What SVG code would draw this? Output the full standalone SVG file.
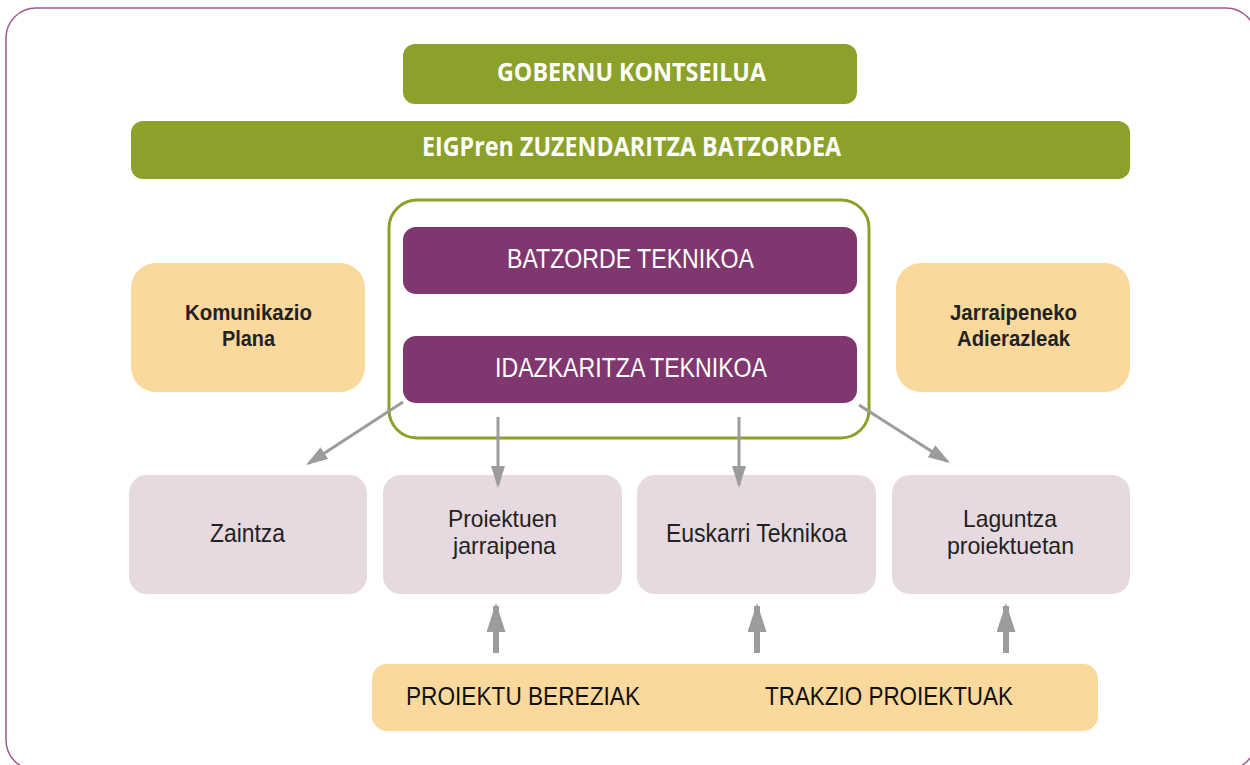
<svg xmlns="http://www.w3.org/2000/svg" width="1250" height="765" viewBox="0 0 1250 765">
<style>
.frame{fill:#fff;stroke:#9b5a8f;stroke-width:1.5}
.green{fill:#8ba12a}
.purple{fill:#80366e}
.orange{fill:#fbd89b}
.pink{fill:#e6d9e0}
.gt{font-family:"Open Sans","Liberation Sans",sans-serif;font-weight:700;fill:#fff;text-anchor:middle}
.pt{font-family:"Liberation Sans",Arial,sans-serif;font-size:28px;fill:#fff;text-anchor:middle}
.ot{font-family:"Liberation Sans",Arial,sans-serif;font-weight:700;font-size:22px;fill:#222;text-anchor:middle}
.kt{font-family:"Liberation Sans",Arial,sans-serif;font-size:25px;fill:#222;text-anchor:middle}
.kt2{font-family:"Liberation Sans",Arial,sans-serif;font-size:24px;fill:#222;text-anchor:middle}
.bt{font-family:"Liberation Sans",Arial,sans-serif;font-size:26px;fill:#111}
.conn{stroke:#9c9c9c;stroke-width:3;fill:none}
.up{stroke:#9c9c9c;stroke-width:6;fill:none}
</style>
<defs>
<marker id="ah" markerUnits="userSpaceOnUse" markerWidth="24" markerHeight="14" refX="19" refY="7" orient="auto">
<path d="M0,0 L22,7 L0,14 z" fill="#9c9c9c"/>
</marker>
<marker id="ahUp" markerUnits="userSpaceOnUse" markerWidth="30" markerHeight="20" refX="26" refY="9.5" orient="auto">
<path d="M0,0 L29,9.5 L0,19 z" fill="#9c9c9c"/>
</marker>
</defs>
<rect class="frame" x="6" y="8" width="1250" height="762" rx="30"/>

<g id="gobernu">
<rect class="green" x="403" y="44" width="454" height="60" rx="12"/>
<text class="gt" x="631.5" y="81" font-size="25" textLength="269" lengthAdjust="spacingAndGlyphs">GOBERNU KONTSEILUA</text>
</g>
<g id="zuzendaritza">
<rect class="green" x="131" y="121" width="999" height="58" rx="12"/>
<text class="gt" x="631.5" y="156" font-size="26" textLength="419" lengthAdjust="spacingAndGlyphs">EIGPren ZUZENDARITZA BATZORDEA</text>
</g>
<g id="teknikoa-group">
<rect x="389" y="200" width="480" height="238" rx="28" fill="none" stroke="#8ba12a" stroke-width="3"/>
</g>
<g id="batzorde">
<rect class="purple" x="403" y="227" width="454" height="67" rx="13"/>
<text class="pt" x="630.5" y="268" textLength="247" lengthAdjust="spacingAndGlyphs">BATZORDE TEKNIKOA</text>
</g>
<g id="idazkaritza">
<rect class="purple" x="403" y="336" width="454" height="67" rx="13"/>
<text class="pt" x="631" y="377" textLength="272" lengthAdjust="spacingAndGlyphs">IDAZKARITZA TEKNIKOA</text>
</g>
<g id="komunikazio">
<rect class="orange" x="131" y="263" width="234" height="129" rx="25"/>
<text class="ot" x="248.5" y="320" textLength="127" lengthAdjust="spacingAndGlyphs">Komunikazio</text>
<text class="ot" x="248.5" y="346" textLength="53" lengthAdjust="spacingAndGlyphs">Plana</text>
</g>
<g id="jarraipeneko">
<rect class="orange" x="896" y="263" width="234" height="129" rx="25"/>
<text class="ot" x="1013.5" y="320" textLength="127" lengthAdjust="spacingAndGlyphs">Jarraipeneko</text>
<text class="ot" x="1013.5" y="346" textLength="113" lengthAdjust="spacingAndGlyphs">Adierazleak</text>
</g>
<g id="zaintza">
<rect class="pink" x="129" y="475" width="238" height="119" rx="18"/>
<text class="kt" x="247.5" y="542" textLength="75" lengthAdjust="spacingAndGlyphs">Zaintza</text>
</g>
<g id="proiektuen">
<rect class="pink" x="383" y="475" width="239" height="119" rx="18"/>
<text class="kt2" x="502.5" y="527" textLength="109" lengthAdjust="spacingAndGlyphs">Proiektuen</text>
<text class="kt2" x="504.5" y="554" textLength="103" lengthAdjust="spacingAndGlyphs">jarraipena</text>
</g>
<g id="euskarri">
<rect class="pink" x="637" y="475" width="239" height="119" rx="18"/>
<text class="kt" x="756.5" y="542" textLength="181" lengthAdjust="spacingAndGlyphs">Euskarri Teknikoa</text>
</g>
<g id="laguntza">
<rect class="pink" x="892" y="475" width="238" height="119" rx="18"/>
<text class="kt2" x="1010" y="527" textLength="94" lengthAdjust="spacingAndGlyphs">Laguntza</text>
<text class="kt2" x="1010.5" y="554" textLength="127" lengthAdjust="spacingAndGlyphs">proiektuetan</text>
</g>
<g id="proiektuak">
<rect class="orange" x="372" y="664" width="726" height="67" rx="15"/>
<text class="bt" x="406" y="705" textLength="234" lengthAdjust="spacingAndGlyphs">PROIEKTU BEREZIAK</text>
<text class="bt" x="765" y="705" textLength="248" lengthAdjust="spacingAndGlyphs">TRAKZIO PROIEKTUAK</text>
</g>

<g id="connectors">
<line class="conn" x1="403" y1="402" x2="308.5" y2="463.4" marker-end="url(#ah)"/>
<line class="conn" x1="498" y1="417" x2="498" y2="485" marker-end="url(#ah)"/>
<line class="conn" x1="739" y1="417" x2="739" y2="485" marker-end="url(#ah)"/>
<line class="conn" x1="859" y1="405" x2="947.5" y2="461.4" marker-end="url(#ah)"/>
<line class="up" x1="496" y1="653" x2="496" y2="606" marker-end="url(#ahUp)"/>
<line class="up" x1="757" y1="653" x2="757" y2="606" marker-end="url(#ahUp)"/>
<line class="up" x1="1006" y1="653" x2="1006" y2="606" marker-end="url(#ahUp)"/>
</g>
</svg>
